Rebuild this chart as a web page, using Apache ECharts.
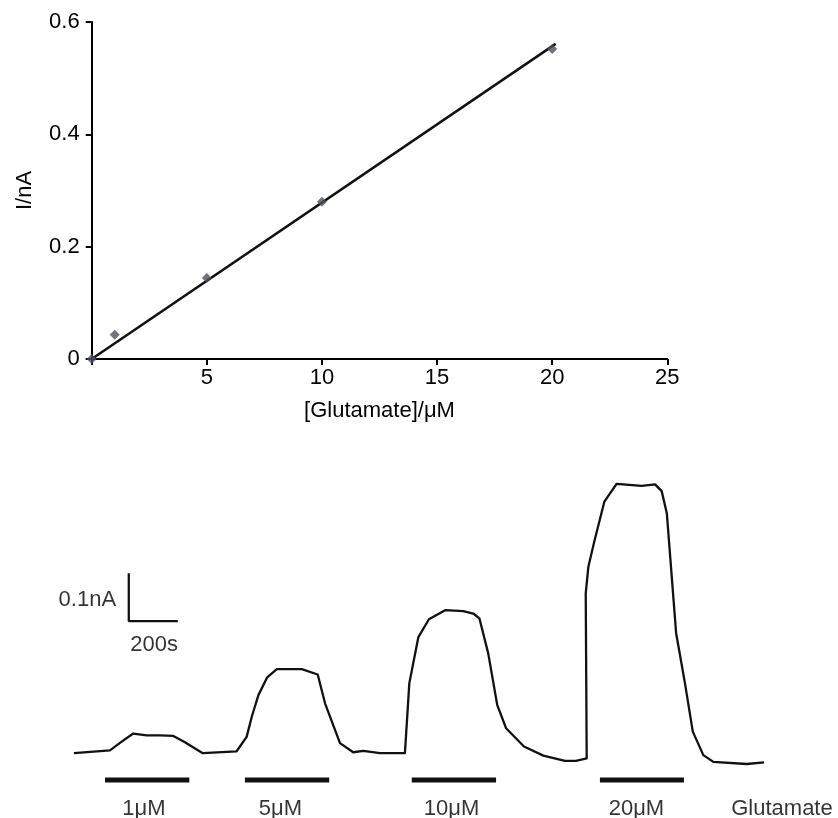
<!DOCTYPE html>
<html>
<head>
<meta charset="utf-8">
<script src="https://cdn.jsdelivr.net/npm/echarts@6/dist/echarts.min.js"></script>
<style>
  html, body { margin: 0; padding: 0; background: #fff; }
  #chart { width: 838px; height: 818px; }
</style>
</head>
<body>
<div id="chart"></div>
<script>
// Calibration: peak current vs. glutamate concentration
const calConc = [0, 1, 5, 10, 20];
const calCurrent = [0, 0.043, 0.144, 0.28, 0.552];
// Linear fit drawn through the calibration points
const fitConc = [0, 20.15];
const fitCurrent = [0, 0.561];
const xTickValues = [0, 5, 10, 15, 20, 25];
const yTickValues = [0, 0.2, 0.4, 0.6];

// Amperometric trace (time in s, current in nA)
const traceTime = [16, 163, 211, 258, 313, 367, 422, 469, 542, 680, 721, 742, 769, 805, 844, 946, 1011, 1041, 1102, 1156, 1197, 1265, 1367, 1385, 1422, 1465, 1531, 1605, 1646, 1671, 1707, 1744, 1780, 1853, 1932, 2020, 2065, 2109, 2105, 2116, 2140, 2181, 2231, 2333, 2388, 2415, 2436, 2474, 2510, 2542, 2585, 2626, 2762, 2833];
const traceCurrent = [0.110, 0.116, 0.134, 0.151, 0.147, 0.147, 0.146, 0.133, 0.110, 0.114, 0.144, 0.186, 0.231, 0.268, 0.285, 0.285, 0.274, 0.214, 0.131, 0.112, 0.115, 0.110, 0.110, 0.256, 0.352, 0.389, 0.408, 0.406, 0.401, 0.391, 0.318, 0.210, 0.162, 0.124, 0.105, 0.094, 0.094, 0.099, 0.443, 0.499, 0.551, 0.634, 0.671, 0.667, 0.670, 0.656, 0.610, 0.360, 0.256, 0.155, 0.106, 0.092, 0.0875, 0.091];

// Glutamate application periods
const doseLabels = ['1μM', '5μM', '10μM', '20μM'];
const doseStart = [143, 714, 1395, 2163];
const doseEnd = [487, 1058, 1739, 2506];
const doseLabelTime = [302, 859, 1557, 2312];
const barLevel = 0.054;
const labelLevel = -0.006;
const reagentLabel = 'Glutamate';
const reagentLabelTime = 2906;

// Scale bar: 0.1 nA by 200 s
const scaleBarTime = [240, 240, 440];
const scaleBarCurrent = [0.485, 0.385, 0.385];
const scaleCurrentLabel = '0.1nA';
const scaleTimeLabel = '200s';

const FONT = '"Liberation Sans", Arial, sans-serif';
const FS = 22;
const INK = '#000';

const chart = echarts.init(document.getElementById('chart'), null, { renderer: 'canvas' });

const barSeries = doseLabels.map((name, i) => ({
  type: 'line',
  xAxisIndex: 1, yAxisIndex: 1,
  data: [[doseStart[i], barLevel], [doseEnd[i], barLevel]],
  symbol: 'none',
  lineStyle: { color: '#111', width: 5, cap: 'butt' },
  silent: true
}));

const textPoint = (x, y, text, pos) => ({
  value: [x, y],
  label: { show: true, formatter: text, position: pos || 'inside' }
});

const option = {
  animation: false,
  backgroundColor: '#fff',
  textStyle: { fontFamily: FONT },
  grid: [
    { left: 91.7, top: 22, width: 575.6, height: 337 },
    { left: 70, top: 470, width: 735, height: 340.8 }
  ],
  xAxis: [
    {
      type: 'value', gridIndex: 0, min: 0, max: 25, interval: 5,
      name: '[Glutamate]/μM', nameLocation: 'middle', nameGap: 41,
      nameTextStyle: { fontSize: FS, color: INK, fontFamily: FONT },
      axisLine: { show: true, onZero: false, lineStyle: { color: INK, width: 2 } },
      axisTick: { show: true, length: 6, lineStyle: { color: INK, width: 2 } },
      axisLabel: {
        fontSize: FS, color: INK, fontFamily: FONT, margin: 8,
        formatter: v => (v === 0 ? '' : String(v))
      },
      splitLine: { show: false }
    },
    {
      type: 'value', gridIndex: 1, min: 0, max: 3000, show: false
    }
  ],
  yAxis: [
    {
      type: 'value', gridIndex: 0, min: 0, max: 0.6, interval: 0.2,
      name: 'I/nA', nameLocation: 'middle', nameGap: 56,
      nameTextStyle: { fontSize: FS, color: INK, fontFamily: FONT },
      axisLine: { show: true, onZero: false, lineStyle: { color: INK, width: 2 } },
      axisTick: { show: true, length: 6, lineStyle: { color: INK, width: 2 } },
      axisLabel: {
        fontSize: FS, color: INK, fontFamily: FONT, margin: 12,
        formatter: v => (v === 0 ? '0' : v.toFixed(1))
      },
      splitLine: { show: false }
    },
    {
      type: 'value', gridIndex: 1, min: -0.01, max: 0.7, show: false
    }
  ],
  series: [
    {
      type: 'line', xAxisIndex: 0, yAxisIndex: 0,
      data: fitConc.map((x, i) => [x, fitCurrent[i]]),
      symbol: 'none',
      lineStyle: { color: '#111', width: 2.5 },
      z: 2
    },
    {
      type: 'scatter', xAxisIndex: 0, yAxisIndex: 0,
      data: calConc.map((x, i) => [x, calCurrent[i]]),
      symbol: 'diamond', symbolSize: 10,
      itemStyle: { color: '#4c535c' },
      z: 3
    },
    {
      type: 'line', xAxisIndex: 1, yAxisIndex: 1,
      data: traceTime.map((t, i) => [t, traceCurrent[i]]),
      symbol: 'none',
      lineStyle: { color: '#111', width: 2.3, join: 'round' }
    },
    ...barSeries,
    {
      type: 'line', xAxisIndex: 1, yAxisIndex: 1,
      data: scaleBarTime.map((t, i) => [t, scaleBarCurrent[i]]),
      symbol: 'none',
      lineStyle: { color: '#111', width: 2.3 }
    },
    {
      type: 'scatter', xAxisIndex: 1, yAxisIndex: 1,
      symbolSize: 0,
      label: { show: true, fontSize: FS, color: INK, fontFamily: FONT },
      data: [
        ...doseLabels.map((t, i) => textPoint(doseLabelTime[i], labelLevel, t)),
        textPoint(reagentLabelTime, labelLevel, reagentLabel),
        textPoint(343, 0.336, scaleTimeLabel),
        {
          value: [188, 0.429],
          label: { show: true, formatter: scaleCurrentLabel, position: 'left', distance: 0 }
        }
      ],
      silent: true
    }
  ]
};

chart.setOption(option);
</script>
</body>
</html>
